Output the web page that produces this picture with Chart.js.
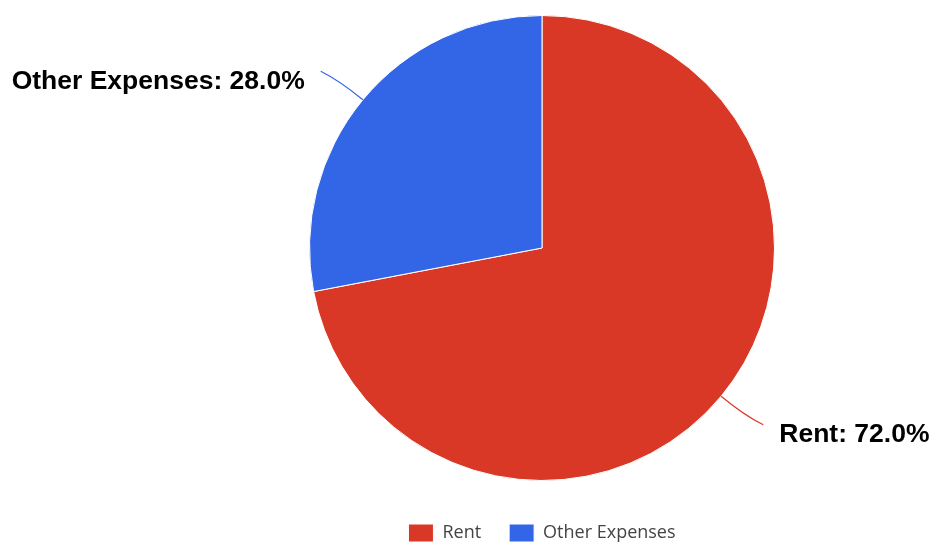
<!DOCTYPE html>
<html>
<head>
<meta charset="utf-8">
<script src="https://cdn.jsdelivr.net/npm/chart.js@4.4.0/dist/chart.umd.min.js"></script>
<style>
  html, body { margin: 0; padding: 0; background: #fff; }
</style>
</head>
<body>
<canvas id="pie" width="931" height="544"></canvas>
<script>
const labels = ['Rent', 'Other Expenses'];
const shares = [72.0, 28.0];
const colors = ['#DA3826', '#3366E6'];

// outside labels with a small curved leader line, drawn from each arc's geometry
const sliceLabels = {
  id: 'sliceLabels',
  afterDatasetsDraw(chart) {
    const ctx = chart.ctx;
    const arcs = chart.getDatasetMeta(0).data;
    const total = shares.reduce((a, b) => a + b, 0);
    ctx.save();
    ctx.font = 'bold 26.5px "Liberation Sans", Arial, sans-serif';
    ctx.textBaseline = 'alphabetic';
    ctx.fillStyle = '#000';
    arcs.forEach((arc, i) => {
      const p = arc.getProps(['x', 'y', 'startAngle', 'endAngle', 'outerRadius'], true);
      const mid = (p.startAngle + p.endAngle) / 2;
      const cos = Math.cos(mid), sin = Math.sin(mid);
      const side = cos >= 0 ? 1 : -1;
      const vert = sin >= 0 ? 1 : -1;
      const x0 = p.x + cos * p.outerRadius, y0 = p.y + sin * p.outerRadius;
      const cx = p.x + cos * (p.outerRadius + 30), cy = p.y + sin * (p.outerRadius + 30);
      const ex = cx + side * 19, ey = cy + vert * 9.5;

      ctx.beginPath();
      ctx.moveTo(x0, y0);
      ctx.quadraticCurveTo(cx, cy, ex, ey);
      ctx.strokeStyle = colors[i];
      ctx.lineWidth = 1.2;
      ctx.stroke();

      const text = labels[i] + ': ' + (shares[i] / total * 100).toFixed(1) + '%';
      ctx.textAlign = side > 0 ? 'left' : 'right';
      ctx.fillText(text, ex + side * 16, ey + 17.5);
    });
    ctx.restore();
  }
};

new Chart(document.getElementById('pie'), {
  type: 'pie',
  data: {
    labels,
    datasets: [{
      data: shares,
      backgroundColor: colors,
      borderColor: '#ffffff',
      borderWidth: 1,
    }]
  },
  options: {
    responsive: false,
    animation: false,
    layout: { padding: { top: -4, left: 309, right: 156, bottom: -8 } },
    plugins: {
      tooltip: { enabled: false },
      legend: {
        position: 'bottom',
        labels: {
          color: '#444',
          font: { family: '"Open Sans", sans-serif', size: 18 },
          boxWidth: 25,
          boxHeight: 18,
          padding: 28,
        }
      }
    }
  },
  plugins: [sliceLabels]
});
</script>
</body>
</html>
